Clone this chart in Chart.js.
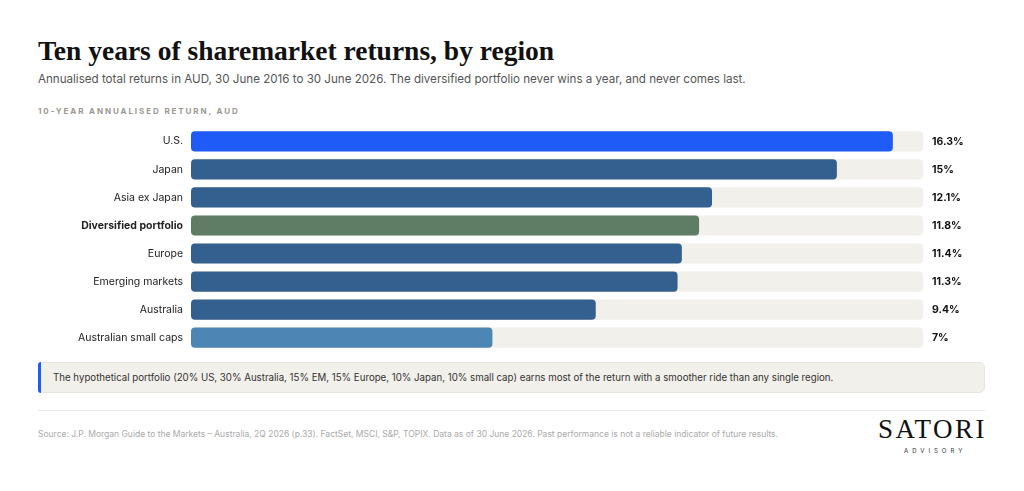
<!DOCTYPE html>
<html><head><meta charset="utf-8">
<script src="https://cdn.jsdelivr.net/npm/chart.js@4"></script>
<style>
html,body{margin:0;padding:0;background:#fff;width:1024px;height:491px;overflow:hidden;font-family:Inter,"Open Sans",sans-serif;}
.abs{position:absolute;white-space:nowrap;}
#title{left:38px;top:35px;font-family:"Liberation Serif","DejaVu Serif",serif;font-weight:bold;font-size:27.5px;color:#111;}
#sub{left:38px;top:72px;font-size:11.6px;color:#555;}
#cap{left:38px;top:106px;font-size:8px;font-weight:700;letter-spacing:1.9px;color:#9b978f;}
#c{position:absolute;left:38px;top:121px;}
#note{position:absolute;left:38px;top:362px;width:947px;height:31px;background:#f2f0eb;border-radius:6px;border:1px solid #e6e3dc;box-sizing:border-box;}
#note:before{content:"";position:absolute;left:-1px;top:-1px;bottom:-1px;width:3px;background:#1f5cf7;border-radius:6px 0 0 6px;}
#note span{position:absolute;left:14px;top:8.5px;font-size:9.7px;color:#333;}
#rule{position:absolute;left:38px;top:410px;width:947px;height:1px;background:#ebe9e4;}
#src{left:38px;top:429px;font-size:8.5px;color:#aaa;}
#logo{left:878px;top:414px;font-family:"Liberation Serif","DejaVu Serif",serif;font-size:27px;letter-spacing:2.5px;color:#111;}
#adv{left:904px;top:447px;font-size:6px;letter-spacing:4px;color:#333;}
</style></head>
<body>
<div class="abs" id="title">Ten years of sharemarket returns, by region</div>
<div class="abs" id="sub">Annualised total returns in AUD, 30 June 2016 to 30 June 2026. The diversified portfolio never wins a year, and never comes last.</div>
<div class="abs" id="cap">10-YEAR ANNUALISED RETURN, AUD</div>
<canvas id="c" width="947" height="237" style="width:947px;height:237px"></canvas>
<div id="note"><span>The hypothetical portfolio (20% US, 30% Australia, 15% EM, 15% Europe, 10% Japan, 10% small cap) earns most of the return with a smoother ride than any single region.</span></div>
<div id="rule"></div>
<div class="abs" id="src">Source: J.P. Morgan Guide to the Markets – Australia, 2Q 2026 (p.33). FactSet, MSCI, S&amp;P, TOPIX. Data as of 30 June 2026. Past performance is not a reliable indicator of future results.</div>
<div class="abs" id="logo">SATORI</div>
<div class="abs" id="adv">ADVISORY</div>
<script>
const categories = ["U.S.","Japan","Asia ex Japan","Diversified portfolio","Europe","Emerging markets","Australia","Australian small caps"];
const returns = [16.3,15,12.1,11.8,11.4,11.3,9.4,7];
const valueLabels = ["16.3%","15%","12.1%","11.8%","11.4%","11.3%","9.4%","7%"];
const barColors = ["#1f5cf7","#33608f","#33608f","#5e7d64","#33608f","#33608f","#33608f","#4d86b5"];
const axisMax = 17;
const trackValues = categories.map(()=>axisMax);

const valuePlugin = {
  id:'vals',
  afterDatasetsDraw(chart){
    const ctx = chart.ctx, meta = chart.getDatasetMeta(1);
    ctx.save();
    ctx.font = "700 10.5px Inter, 'Open Sans', sans-serif";
    ctx.fillStyle = "#111";
    ctx.textBaseline = "middle";
    meta.data.forEach((el,i)=>{
      ctx.fillText(valueLabels[i], chart.chartArea.right + 9, el.y + 0.5);
    });
    ctx.restore();
  }
};

new Chart(document.getElementById('c'),{
  type:'bar',
  data:{labels:categories,datasets:[
    {data:trackValues,backgroundColor:"#f2f0eb",borderRadius:4,borderSkipped:false,grouped:false,order:2,barPercentage:1,categoryPercentage:0.72},
    {data:returns,backgroundColor:barColors,borderRadius:4,borderSkipped:false,grouped:false,order:1,barPercentage:1,categoryPercentage:0.72}
  ]},
  options:{
    indexAxis:'y',responsive:false,animation:false,devicePixelRatio:1,
    layout:{padding:{left:0,right:62,top:0,bottom:0}},
    plugins:{legend:{display:false},tooltip:{enabled:false}},
    scales:{
      x:{display:false,min:0,max:axisMax},
      y:{
        grid:{display:false},border:{display:false},
        afterFit(s){s.width=153;},
        ticks:{padding:0,color:"#222",
          font:(c)=>({family:"Inter, 'Open Sans', sans-serif",size:10.5,weight:c.index===3?'700':'400'})}
      }
    }
  },
  plugins:[valuePlugin]
});
</script>
</body></html>
